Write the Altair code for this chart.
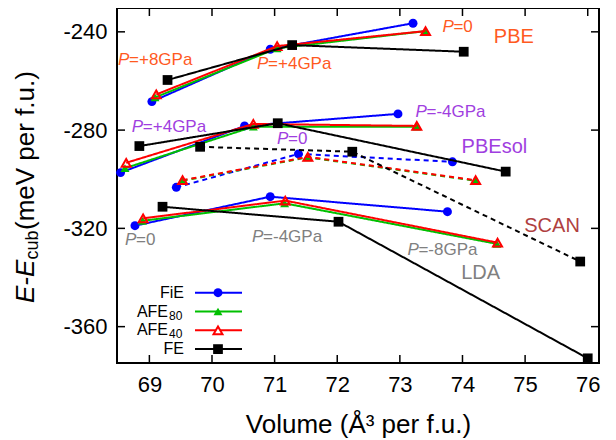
import altair as alt
import pandas as pd

# ---------------- data ----------------
PHASES = ["FiE", "AFE80", "AFE40", "FE"]
FUNCTIONALS = ["PBE", "PBEsol", "SCAN", "LDA"]

PBE_VOL = {"FiE": [69.04, 70.93, 73.21], "AFE80": [69.09, 71.04, 73.41],
           "AFE40": [69.11, 71.04, 73.41], "FE": [69.29, 71.28, 74.02]}
PBE_E = {"FiE": [-268.4, -247.1, -236.5], "AFE80": [-266.7, -246.7, -239.7],
         "AFE40": [-265.5, -245.8, -239.7], "FE": [-259.6, -245.4, -248.1]}

PBESOL_VOL = {"FiE": [68.54, 70.52, 72.97], "AFE80": [68.61, 70.66, 73.27],
              "AFE40": [68.63, 70.66, 73.27], "FE": [68.84, 71.05, 74.69]}
PBESOL_E = {"FiE": [-297.3, -278.3, -273.4], "AFE80": [-295.5, -278.6, -278.6],
            "AFE40": [-293.3, -277.5, -278.3], "FE": [-286.5, -277.2, -296.9]}

SCAN_VOL = {"FiE": [69.43, 71.38, 73.84], "AFE80": [69.53, 71.53, 74.21],
            "AFE40": [69.53, 71.53, 74.21], "FE": [69.81, 72.24, 75.88]}
SCAN_E = {"FiE": [-303.3, -289.7, -292.9], "AFE80": [-300.6, -291.1, -300.6],
          "AFE40": [-300.4, -290.9, -300.4], "FE": [-286.8, -288.8, -333.5]}

LDA_VOL = {"FiE": [68.77, 70.93, 73.76], "AFE80": [68.89, 71.16, 74.55],
           "AFE40": [68.90, 71.17, 74.56], "FE": [69.21, 72.02, 76.00]}
LDA_E = {"FiE": [-318.9, -307.1, -313.2], "AFE80": [-316.9, -309.8, -326.3],
         "AFE40": [-315.9, -308.7, -325.8], "FE": [-311.2, -317.3, -372.9]}

# pressure annotations
P_LABEL_VOL = [73.68, 68.50, 70.72, 68.72, 73.25, 71.04, 68.61, 70.64, 73.12]
P_LABEL_E = [-238.0, -251.5, -253.1, -278.8, -272.5, -283.6, -324.7, -323.5, -328.8]
P_LABEL_TEXT = ["=0", "=+8GPa", "=+4GPa", "=+4GPa", "=-4GPa", "=0", "=0", "=-4GPa", "=-8GPa"]
P_LABEL_FUNC = ["PBE", "PBE", "PBE", "PBEsol", "PBEsol", "PBEsol", "LDA", "LDA", "LDA"]

NAME_VOL = [74.82, 74.51, 75.43, 74.29]
NAME_E = [-242.1, -286.9, -319.0, -338.2]

X_TICKS = [69, 70, 71, 72, 73, 74, 75, 76]
Y_TICKS = [-240, -280, -320, -360]

LEGEND_MAIN = ["FiE", "AFE", "AFE", "FE"]
LEGEND_SUB = ["", "80", "40", ""]

# ---------------- styles ----------------
FONT = "Liberation Sans"
PHASE_COLOR = {"FiE": "#0000ff", "AFE80": "#00c000", "AFE40": "#ff0000", "FE": "#000000"}
FUNC_COLOR = {"PBE": "#ff5a1f", "PBEsol": "#a03ee0", "SCAN": "#b04040", "LDA": "#808080"}
W, H = 482, 355

rows = []
for func, vols, es in [("PBE", PBE_VOL, PBE_E), ("PBEsol", PBESOL_VOL, PBESOL_E),
                       ("SCAN", SCAN_VOL, SCAN_E), ("LDA", LDA_VOL, LDA_E)]:
    for ph in PHASES:
        for i, (v, e) in enumerate(zip(vols[ph], es[ph])):
            rows.append({"func": func, "phase": ph, "idx": i, "vol": v, "E": e,
                         "style": "dashed" if func == "SCAN" else "solid"})
df = pd.DataFrame(rows)

xs = alt.Scale(domain=[68.483, 76.18], nice=False, zero=False)
ys = alt.Scale(domain=[-374.8, -230.3], nice=False, zero=False)

X = alt.X("vol:Q", scale=xs, axis=alt.Axis(values=X_TICKS, ticks=False, domain=False, grid=False,
                                           labelExpr="'' + datum.value",
                                           labelFontSize=22, labelPadding=11,
                                           labelFont=FONT, labelColor="black",
                                           title="Volume (Å³ per f.u.)", titleFont=FONT,
                                           titleFontSize=26, titleFontWeight="normal",
                                           titleColor="black", titlePadding=16))
Y = alt.Y("E:Q", scale=ys, axis=alt.Axis(values=Y_TICKS, ticks=False, domain=False, grid=False,
                                         labelExpr="'' + datum.value",
                                         labelFontSize=22, labelPadding=10,
                                         labelFont=FONT, labelColor="black", title=None))

SHAPES = {"FiE": ("circle", True, 80), "AFE80": ("triangle-up", True, 80),
          "AFE40": ("triangle-up", False, 80), "FE": ("square", True, 95)}

layers = []
for ph in PHASES:
    sub = alt.Chart(df).transform_filter(alt.datum.phase == ph)
    line = sub.mark_line(color=PHASE_COLOR[ph], strokeWidth=2).encode(
        x=X, y=Y, detail="func:N", order="idx:Q",
        strokeDash=alt.StrokeDash("style:N", scale=alt.Scale(domain=["solid", "dashed"],
                                                             range=[[1, 0], [5, 4]]), legend=None))
    shape, filled, size = SHAPES[ph]
    pt = sub.mark_point(shape=shape, filled=filled, size=size, opacity=1,
                        color=PHASE_COLOR[ph], strokeWidth=2).encode(x=X, y=Y)
    layers += [line, pt]

# pressure labels: italic "P" + rest
pdf = pd.DataFrame({"vol": P_LABEL_VOL, "E": P_LABEL_E, "txt": P_LABEL_TEXT,
                    "col": [FUNC_COLOR[f] for f in P_LABEL_FUNC]})
plab_p = alt.Chart(pdf).mark_text(align="left", baseline="middle", font=FONT, fontSize=17,
                                  fontStyle="italic").encode(
    x=X, y=Y, text=alt.value("P"), color=alt.Color("col:N", scale=None))
plab_r = alt.Chart(pdf).mark_text(align="left", baseline="middle", font=FONT, fontSize=17,
                                  dx=11).encode(
    x=X, y=Y, text="txt:N", color=alt.Color("col:N", scale=None))

ndf = pd.DataFrame({"vol": NAME_VOL, "E": NAME_E, "name": FUNCTIONALS,
                    "col": [FUNC_COLOR[f] for f in FUNCTIONALS]})
names = alt.Chart(ndf).mark_text(align="center", baseline="middle", font=FONT, fontSize=20).encode(
    x=X, y=Y, text="name:N", color=alt.Color("col:N", scale=None))

# inward ticks on all four sides
xt = pd.DataFrame({"vol": X_TICKS})
yt = pd.DataFrame({"E": Y_TICKS})
tick_b = alt.Chart(xt).mark_rule(color="black", strokeWidth=1.5).encode(
    x=alt.X("vol:Q", scale=xs), y=alt.value(H), y2=alt.value(H - 8))
tick_t = alt.Chart(xt).mark_rule(color="black", strokeWidth=1.5).encode(
    x=alt.X("vol:Q", scale=xs), y=alt.value(0), y2=alt.value(8))
tick_l = alt.Chart(yt).mark_rule(color="black", strokeWidth=1.5).encode(
    y=alt.Y("E:Q", scale=ys), x=alt.value(0), x2=alt.value(8))
tick_r = alt.Chart(yt).mark_rule(color="black", strokeWidth=1.5).encode(
    y=alt.Y("E:Q", scale=ys), x=alt.value(W), x2=alt.value(W - 8))
layers += [tick_b, tick_t, tick_l, tick_r, plab_p, plab_r, names]

# manual legend (text left of symbol)
one = alt.Data(values=[{"a": 1}])
for i, ph in enumerate(PHASES):
    yy = 284.7 + i * 18.8
    shape, filled, size = SHAPES[ph]
    layers.append(alt.Chart(one).mark_rule(color=PHASE_COLOR[ph], strokeWidth=2).encode(
        x=alt.value(78), x2=alt.value(125), y=alt.value(yy)))
    layers.append(alt.Chart(one).mark_point(shape=shape, filled=filled, size=size, opacity=1,
                                            color=PHASE_COLOR[ph], strokeWidth=2,
                                            fill="white" if not filled else PHASE_COLOR[ph]).encode(
        x=alt.value(101), y=alt.value(yy)))
    if LEGEND_SUB[i]:
        layers.append(alt.Chart(one).mark_text(align="right", baseline="middle", font=FONT,
                                               fontSize=16, color="black").encode(
            x=alt.value(51), y=alt.value(yy), text=alt.value(LEGEND_MAIN[i])))
        layers.append(alt.Chart(one).mark_text(align="left", baseline="middle", font=FONT,
                                               fontSize=12, color="black", dy=4).encode(
            x=alt.value(52), y=alt.value(yy), text=alt.value(LEGEND_SUB[i])))
    else:
        layers.append(alt.Chart(one).mark_text(align="right", baseline="middle", font=FONT,
                                               fontSize=16, color="black").encode(
            x=alt.value(67), y=alt.value(yy), text=alt.value(LEGEND_MAIN[i])))

# y-axis title built from pieces (E-E_cub(meV per f.u.))
layers.append(alt.Chart(one).mark_text(angle=270, align="left", baseline="middle", font=FONT,
                                       fontSize=26, fontStyle="italic", color="black").encode(
    x=alt.value(-91), y=alt.value(295), text=alt.value("E-E")))
layers.append(alt.Chart(one).mark_text(angle=270, align="left", baseline="middle", font=FONT,
                                       fontSize=18, color="black").encode(
    x=alt.value(-84), y=alt.value(251.5), text=alt.value("cub")))
layers.append(alt.Chart(one).mark_text(angle=270, align="left", baseline="middle", font=FONT,
                                       fontSize=26, color="black").encode(
    x=alt.value(-91), y=alt.value(222), text=alt.value("(meV per f.u.)")))

chart = alt.layer(*layers).properties(
    width=W, height=H,
    autosize=alt.AutoSizeParams(type="none"),
    padding={"left": 109, "top": 0, "right": 9, "bottom": 76},
).configure_view(stroke="black", strokeWidth=2)

chart.save("out.html", embed_options={"renderer": "svg", "actions": False})
